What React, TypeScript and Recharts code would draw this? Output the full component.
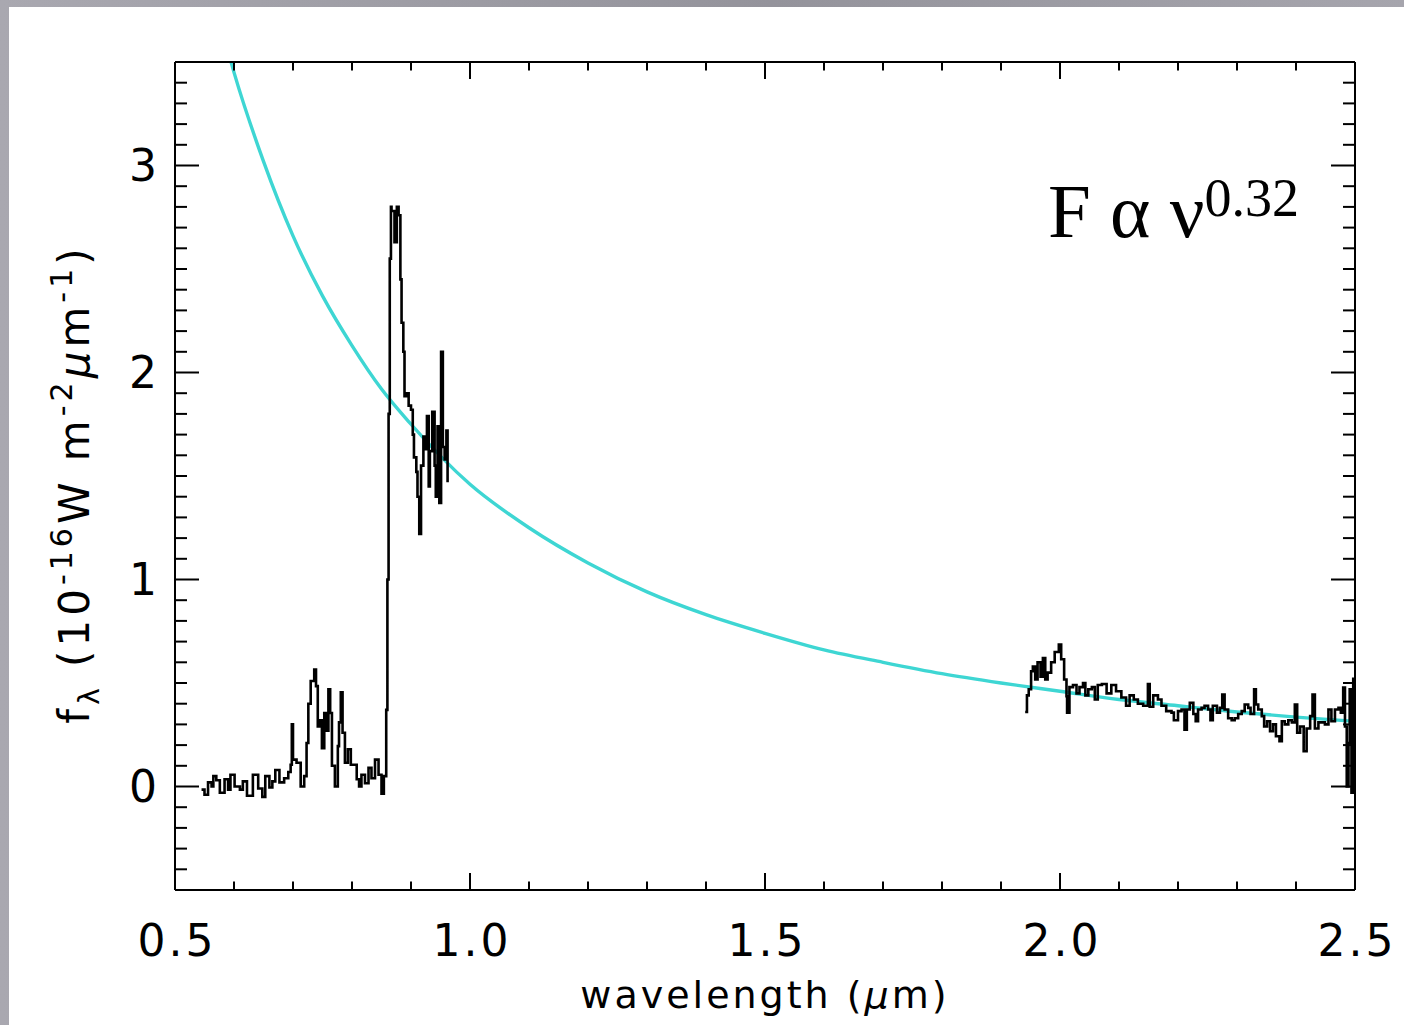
import React from 'react';
import { LineChart, Line, XAxis, YAxis, Label } from 'recharts';

// optical part of the spectrum (wavelength in µm, f_lambda in 1e-16 W m^-2 µm^-1)
const optWave = [
  0.545, 0.55, 0.556, 0.562, 0.565, 0.57, 0.576, 0.584, 0.59, 0.594, 0.601, 0.61, 0.615, 0.622,
  0.632, 0.641, 0.648, 0.653, 0.66, 0.665, 0.67, 0.677, 0.685, 0.692, 0.696, 0.698, 0.7, 0.706,
  0.713, 0.719, 0.723, 0.726, 0.73, 0.736, 0.739, 0.742, 0.746, 0.749, 0.753, 0.756, 0.76, 0.763,
  0.766, 0.771, 0.776, 0.778, 0.781, 0.784, 0.788, 0.793, 0.798, 0.803, 0.808, 0.812, 0.816, 0.822,
  0.828, 0.833, 0.839, 0.845, 0.85, 0.854, 0.858, 0.86, 0.862, 0.864, 0.866, 0.867, 0.872, 0.876,
  0.879, 0.882, 0.884, 0.887, 0.889, 0.893, 0.896, 0.9, 0.903, 0.905, 0.909, 0.911, 0.914, 0.917,
  0.921, 0.924, 0.927, 0.93, 0.932, 0.936, 0.94, 0.942, 0.945, 0.948, 0.951, 0.954, 0.957, 0.96,
  0.962,
];
const optFlux = [
  -0.015, -0.04, 0.02, 0.0, 0.05, 0.03, -0.03, 0.035, -0.015, 0.057, 0.0, -0.015, 0.025, -0.045,
  0.057, -0.01, -0.05, 0.05, -0.005, 0.025, 0.08, 0.02, 0.04, 0.07, 0.105, 0.3, 0.13, 0.115,
  0.0, 0.05, 0.21, 0.4, 0.51, 0.565, 0.485, 0.29, 0.32, 0.185, 0.355, 0.27, 0.47, 0.355,
  0.1, 0.0, 0.195, 0.31, 0.455, 0.26, 0.115, 0.18, 0.105, 0.105, 0.035, 0.0, 0.057, 0.016,
  0.09, 0.04, 0.13, 0.057, -0.035, 0.05, 0.37, 1.0, 1.8, 2.55, 2.8, 2.78, 2.63, 2.8,
  2.76, 2.45, 2.24, 2.1, 1.885, 1.9, 1.84, 1.82, 1.7, 1.59, 1.52, 1.4, 1.22, 1.55,
  1.69, 1.63, 1.79, 1.45, 1.62, 1.81, 1.55, 1.4, 1.74, 1.37, 2.1, 1.64, 1.58, 1.72,
  1.47,
];

// near-infrared part
const irWave = [
  1.941, 1.944, 1.947, 1.951, 1.954, 1.958, 1.962, 1.967, 1.971, 1.975, 1.979, 1.985, 1.991, 1.998,
  2.002, 2.007, 2.011, 2.012, 2.016, 2.022, 2.028, 2.033, 2.039, 2.043, 2.048, 2.054, 2.059, 2.064,
  2.071, 2.079, 2.087, 2.095, 2.104, 2.112, 2.118, 2.125, 2.132, 2.141, 2.149, 2.152, 2.158, 2.166,
  2.172, 2.18, 2.189, 2.193, 2.2, 2.206, 2.211, 2.215, 2.22, 2.226, 2.23, 2.234, 2.24, 2.245,
  2.251, 2.255, 2.259, 2.266, 2.271, 2.275, 2.279, 2.285, 2.291, 2.296, 2.302, 2.308, 2.313, 2.319,
  2.323, 2.329, 2.332, 2.336, 2.342, 2.346, 2.351, 2.356, 2.361, 2.366, 2.372, 2.376, 2.381, 2.387,
  2.393, 2.398, 2.402, 2.407, 2.413, 2.418, 2.424, 2.428, 2.432, 2.438, 2.443, 2.449, 2.455, 2.46,
  2.466, 2.472, 2.476, 2.48, 2.483, 2.486, 2.489, 2.491, 2.494, 2.497, 2.5,
];
const irFlux = [
  0.36, 0.44, 0.47, 0.557, 0.58, 0.517, 0.6, 0.53, 0.62, 0.517, 0.55, 0.6, 0.65, 0.686,
  0.615, 0.517, 0.436, 0.357, 0.48, 0.49, 0.45, 0.48, 0.5, 0.44, 0.47, 0.48, 0.42, 0.49,
  0.495, 0.45, 0.49, 0.46, 0.43, 0.39, 0.44, 0.42, 0.4, 0.39, 0.495, 0.385, 0.44, 0.42,
  0.39, 0.364, 0.357, 0.32, 0.364, 0.372, 0.275, 0.372, 0.404, 0.35, 0.315, 0.372, 0.38, 0.39,
  0.372, 0.32, 0.39, 0.357, 0.38, 0.444, 0.372, 0.33, 0.32, 0.33, 0.35, 0.364, 0.396, 0.38,
  0.35, 0.47, 0.396, 0.372, 0.34, 0.29, 0.315, 0.267, 0.3, 0.243, 0.219, 0.315, 0.3, 0.32,
  0.31, 0.396, 0.26, 0.29, 0.17, 0.28, 0.34, 0.444, 0.28, 0.31, 0.31, 0.3, 0.372, 0.315,
  0.372, 0.38, 0.357, 0.478, 0.29, 0.0, 0.21, 0.47, -0.03, 0.52, 0.32,
];

// power-law fit curve
const fitWave = [0.59, 0.6, 0.65, 0.7, 0.75, 0.8, 0.85, 0.9, 1.0, 1.1, 1.2, 1.3, 1.4, 1.5, 1.6, 1.7, 1.8, 1.9, 2.0, 2.1, 2.2, 2.3, 2.4, 2.5];
const fitFlux = [3.55, 3.45, 3.02, 2.66, 2.37, 2.13, 1.92, 1.75, 1.46, 1.25, 1.08, 0.94, 0.83, 0.74, 0.66, 0.6, 0.545, 0.5, 0.46, 0.42, 0.39, 0.36, 0.335, 0.315];

const xTicks = [0.5, 0.6, 0.7, 0.8, 0.9, 1.0, 1.1, 1.2, 1.3, 1.4, 1.5, 1.6, 1.7, 1.8, 1.9, 2.0, 2.1, 2.2, 2.3, 2.4, 2.5];
const xMajor = [0.5, 1.0, 1.5, 2.0, 2.5];
const yTicks = [
  -0.4, -0.3, -0.2, -0.1, 0, 0.1, 0.2, 0.3, 0.4, 0.5, 0.6, 0.7, 0.8, 0.9, 1, 1.1, 1.2, 1.3, 1.4, 1.5,
  1.6, 1.7, 1.8, 1.9, 2, 2.1, 2.2, 2.3, 2.4, 2.5, 2.6, 2.7, 2.8, 2.9, 3, 3.1, 3.2, 3.3, 3.4,
];
const yMajor = [0, 1, 2, 3];

const optical = optWave.map((w, i) => ({ w, f: optFlux[i] }));
const infrared = irWave.map((w, i) => ({ w, f: irFlux[i] }));
const fit = fitWave.map((w, i) => ({ w, f: fitFlux[i] }));

const FONT = '"DejaVu Sans", sans-serif';
const X_MAJ = 17;
const Y_MAJ = 24;
const AXIS = { stroke: '#000', strokeWidth: 2 };

const BottomTick = (props: any) => {
  const { x, y, payload } = props;
  const major = xMajor.includes(payload.value);
  return (
    <g>
      <line x1={x} y1={y} x2={x} y2={y - (major ? X_MAJ : X_MAJ / 2)} stroke="#000" strokeWidth={2} />
      {major && (
        <text x={x + 2} y={y + 66} textAnchor="middle" fontFamily={FONT} fontSize={44} letterSpacing={3} fill="#000">
          {payload.value.toFixed(1)}
        </text>
      )}
    </g>
  );
};

const TopTick = (props: any) => {
  const { x, y, payload } = props;
  const major = xMajor.includes(payload.value);
  return <line x1={x} y1={y} x2={x} y2={y + (major ? X_MAJ : X_MAJ / 2)} stroke="#000" strokeWidth={2} />;
};

const LeftTick = (props: any) => {
  const { x, y, payload } = props;
  const major = yMajor.includes(payload.value);
  return (
    <g>
      <line x1={x} y1={y} x2={x + (major ? Y_MAJ : Y_MAJ / 2)} y2={y} stroke="#000" strokeWidth={2} />
      {major && (
        <text x={x - 18} y={y} dy="0.36em" textAnchor="end" fontFamily={FONT} fontSize={44} fill="#000">
          {payload.value}
        </text>
      )}
    </g>
  );
};

const RightTick = (props: any) => {
  const { x, y, payload } = props;
  const major = yMajor.includes(payload.value);
  return <line x1={x} y1={y} x2={x - (major ? Y_MAJ : Y_MAJ / 2)} y2={y} stroke="#000" strokeWidth={2} />;
};

const YTitle = (props: any) => {
  const { viewBox } = props;
  const cx = viewBox.x + 14;
  const cy = viewBox.y + viewBox.height / 2 + 8;
  return (
    <text
      x={cx}
      y={cy}
      transform={`rotate(-90 ${cx} ${cy})`}
      textAnchor="middle"
      fontFamily={FONT}
      fontSize={42}
      letterSpacing={4}
      fill="#000"
    >
      f<tspan dy={10} fontSize={28}>λ</tspan>
      <tspan dy={-10}> (10</tspan>
      <tspan dy={-17} fontSize={30}>-16</tspan>
      <tspan dy={17}>W m</tspan>
      <tspan dy={-17} fontSize={30}>-2</tspan>
      <tspan dy={17} fontStyle="italic">μ</tspan>
      <tspan>m</tspan>
      <tspan dy={-17} fontSize={30}>-1</tspan>
      <tspan dy={17}>)</tspan>
    </text>
  );
};

const XTitle = (props: any) => {
  const { viewBox } = props;
  const cx = viewBox.x + viewBox.width / 2;
  return (
    <text x={cx} y={viewBox.y + 118} textAnchor="middle" fontFamily={FONT} fontSize={38} letterSpacing={3} fill="#000">
      wavelength (<tspan fontStyle="italic">μ</tspan>m)
    </text>
  );
};

export default function App() {
  return (
    <div
      style={{
        position: 'fixed',
        left: 0,
        top: 0,
        width: 1404,
        height: 1025,
        background: 'linear-gradient(90deg, #a9a8b0 0%, #94939b 55%, #a6a5ad 100%)',
      }}
    >
      <div style={{ position: 'absolute', left: 9, top: 7, right: 0, bottom: 0, background: '#fff' }} />
      <div style={{ position: 'absolute', left: 0, top: 0 }}>
        <LineChart width={1404} height={1025} margin={{ top: 61, right: 48, left: 75, bottom: 35 }}>
          <XAxis
            xAxisId="b"
            type="number"
            dataKey="w"
            domain={[0.5, 2.5]}
            allowDataOverflow
            ticks={xTicks}
            interval={0}
            tickSize={0}
            tickMargin={0}
            tick={BottomTick}
            height={100}
            axisLine={AXIS}
          >
            <Label content={XTitle} />
          </XAxis>
          <XAxis
            xAxisId="t"
            orientation="top"
            type="number"
            dataKey="w"
            domain={[0.5, 2.5]}
            allowDataOverflow
            ticks={xTicks}
            interval={0}
            tickSize={0}
            tickMargin={0}
            tick={TopTick}
            height={1}
            axisLine={AXIS}
          />
          <YAxis
            yAxisId="l"
            type="number"
            domain={[-0.5, 3.5]}
            allowDataOverflow
            ticks={yTicks}
            interval={0}
            tickSize={0}
            tickMargin={0}
            tick={LeftTick}
            width={100}
            axisLine={AXIS}
          >
            <Label content={YTitle} />
          </YAxis>
          <YAxis
            yAxisId="r"
            orientation="right"
            type="number"
            domain={[-0.5, 3.5]}
            allowDataOverflow
            ticks={yTicks}
            interval={0}
            tickSize={0}
            tickMargin={0}
            tick={RightTick}
            width={1}
            axisLine={AXIS}
          />
          <Line
            data={fit}
            dataKey="f"
            xAxisId="b"
            yAxisId="l"
            type="monotone"
            stroke="#3ed6d3"
            strokeWidth={3.4}
            dot={false}
            isAnimationActive={false}
          />
          <Line
            data={optical}
            dataKey="f"
            xAxisId="b"
            yAxisId="l"
            type="stepAfter"
            stroke="#000"
            strokeWidth={2.6}
            dot={false}
            isAnimationActive={false}
          />
          <Line
            data={infrared}
            dataKey="f"
            xAxisId="b"
            yAxisId="l"
            type="stepAfter"
            stroke="#000"
            strokeWidth={2.6}
            dot={false}
            isAnimationActive={false}
          />
          {/* keeps the top and right frame axes attached to a series */}
          <Line data={fit} dataKey="f" xAxisId="t" yAxisId="r" stroke="none" dot={false} legendType="none" isAnimationActive={false} />
        </LineChart>
      </div>
      <svg width={1404} height={1025} style={{ position: 'absolute', left: 0, top: 0, pointerEvents: 'none' }}>
        <text x={1048} y={237} fontFamily='"Liberation Serif", serif' fontSize={77} fill="#000">
          F α ν<tspan dy={-21} fontSize={54}>0.32</tspan>
        </text>
      </svg>
    </div>
  );
}
